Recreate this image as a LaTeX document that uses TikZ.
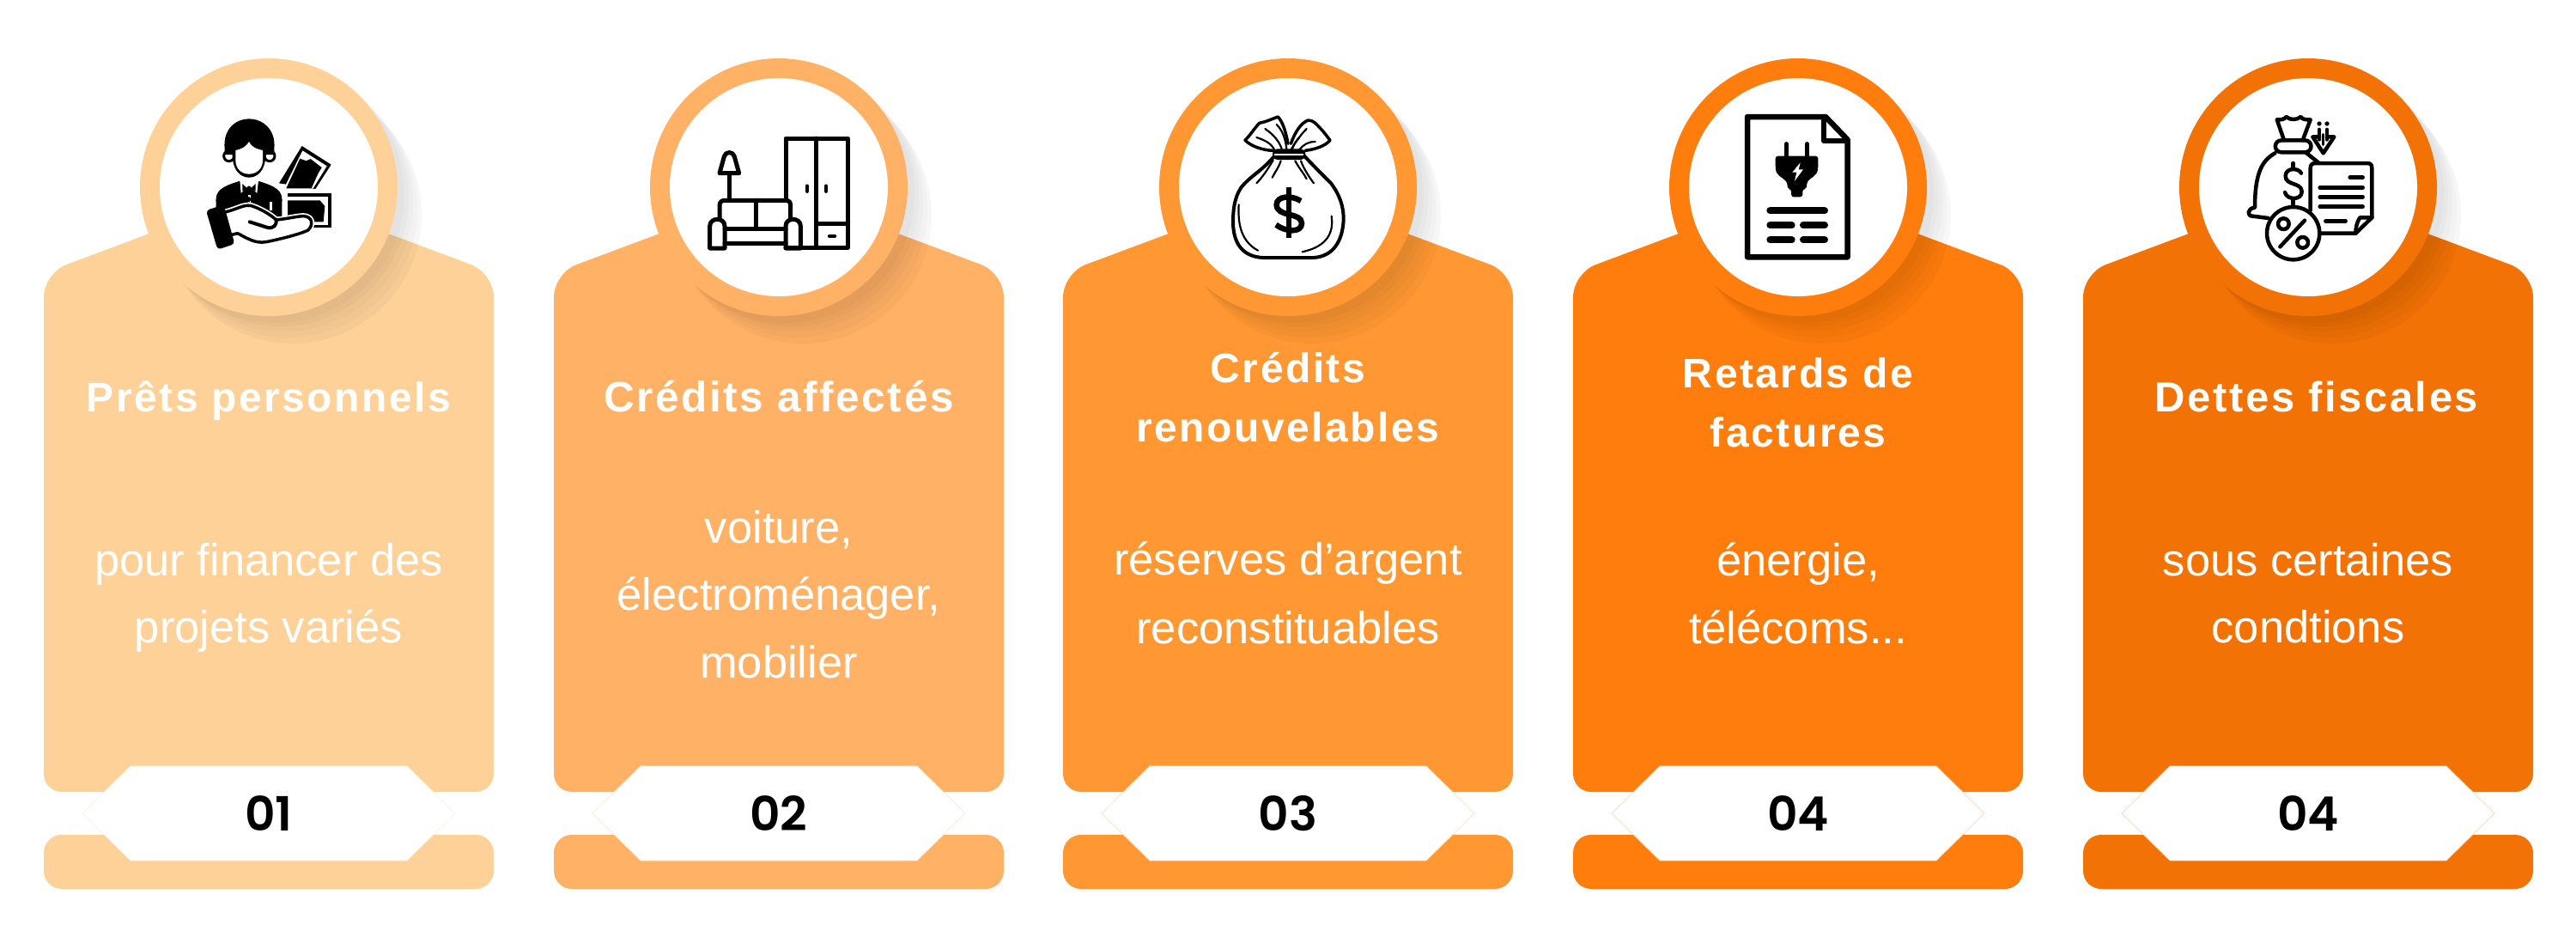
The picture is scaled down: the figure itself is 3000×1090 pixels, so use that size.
\documentclass[tikz,border=0pt]{standalone}
\usepackage{fontspec}
\setmainfont{Liberation Sans}
\newfontfamily\headfont[LetterSpace=5.2]{Liberation Sans}
\newfontfamily\numfont{Poppins SemiBold}
\definecolor{cA}{HTML}{FED198}
\definecolor{cB}{HTML}{FFB266}
\definecolor{cC}{HTML}{FF9833}
\definecolor{cD}{HTML}{FF7D0C}
\definecolor{cE}{HTML}{F27206}
\tikzset{
  headtext/.style={anchor=base,text=white,inner sep=0pt,font={\headfont\bfseries\fontsize{48}{48}\selectfont}},
  bodytext/.style={anchor=base,text=white,inner sep=0pt,font={\fontsize{52.5}{52.5}\selectfont}},
  numtext/.style={anchor=base,text=black,inner sep=0pt,font={\numfont\fontsize{55}{55}\selectfont}},
  ic/.style={draw=black,line width=#1,line cap=round,line join=round},
  ic/.default=5pt,
  iconscope/.style={x=0.33333pt,y=-0.33333pt}
}
\newcommand{\cardshape}[2]{%
  \begin{scope}[shift={(#1,0)}]
    \fill[#2,rounded corners=28pt] (-262,922) [rounded corners=28pt] -- (-262,318) -- (0,220) -- (262,318) [rounded corners=21pt] -- (262,922) -- cycle;
    \fill[#2,rounded corners=21pt] (-262,972) rectangle (262,1035);
    \fill[black,opacity=.03] (28,250) circle (150);
    \fill[black,opacity=.018] (23,243) circle (150);
    \fill[black,opacity=.018] (18,236) circle (150);
    \fill[black,opacity=.018] (13,230) circle (150);
    \fill[black,opacity=.018] (8,226) circle (150);
    \fill[#2] (0,218) circle (150);
    \fill[white] (0,218) circle (127);
    \fill[white,draw=#2!30,line width=.7pt] (-217,947) -- (-161,892) -- (161,892) -- (217,947) -- (161,1002) -- (-161,1002) -- cycle;
  \end{scope}}
\begin{document}
\begin{tikzpicture}[x=1pt,y=-1pt]
\useasboundingbox (0,0) rectangle (3000,1090);
\fill[white] (0,0) rectangle (3000,1090);
\cardshape{313}{cA}
\cardshape{907}{cB}
\cardshape{1500}{cC}
\cardshape{2094}{cD}
\cardshape{2688}{cE}

% --- text
\node[headtext] (h1) at (313,479) {Prêts personnels};
\node[bodytext] (b1a) at (313,670) {pour financer des};
\node[bodytext] (b1b) at (313,748) {projets variés};
\node[numtext] (n1) at (313,967) {01};

\node[headtext] (h2) at (907,479) {\fontsize{49.5}{49.5}\selectfont Crédits affectés};
\node[bodytext] (b2a) at (907,632) {voiture,};
\node[bodytext] (b2b) at (907,710) {électroménager,};
\node[bodytext] (b2c) at (907,789) {mobilier};
\node[numtext] (n2) at (907,967) {02};

\node[headtext] (h3a) at (1500,445) {Crédits};
\node[headtext] (h3b) at (1500,514) {renouvelables};
\node[bodytext] (b3a) at (1500,669) {réserves d’argent};
\node[bodytext] (b3b) at (1500,749) {reconstituables};
\node[numtext] (n3) at (1500,967) {03};

\node[headtext] (h4a) at (2094,451) {Retards de};
\node[headtext] (h4b) at (2094,520) {factures};
\node[bodytext] (b4a) at (2094,670) {énergie,};
\node[bodytext] (b4b) at (2094,749) {télécoms...};
\node[numtext] (n4) at (2094,967) {04};

\node[headtext] (h5) at (2698,479) {\fontsize{49}{49}\selectfont Dettes fiscales};
\node[bodytext] (b5a) at (2688,670) {sous certaines};
\node[bodytext] (b5b) at (2688,748) {condtions};
\node[numtext] (n5) at (2688,967) {04};

% --- icon 1: person and banknotes
\begin{scope}[shift={(220,130)},iconscope]
  % notes
  \fill[black] (395,120) -- (497,185) -- (442,270) -- (315,250) -- cycle;
  \fill[white] (397,136) -- (482,190) -- (434,268) -- (332,268) -- cycle;
  \fill[black] (388,164) -- (410,172) -- (425,165) -- (464,195) -- (452,215) -- (428,268) -- (340,268) -- cycle;
  \fill[black] (345,285) rectangle (497,405);
  \fill[white] (345,297) rectangle (485,395);
  \fill[black] (345,310) -- (458,310) -- (475,330) -- (470,385) -- (345,385) -- cycle;
  % body
  \fill[black] (95,320) .. controls (90,275) and (115,262) .. (178,242) -- (242,242) .. controls (305,262) and (330,275) .. (325,320) -- (325,370) -- (95,370) -- cycle;
  \fill[white] (178,240) -- (182,285) -- (207,260) -- (213,260) -- (238,285) -- (243,240) -- (210,232) -- cycle;
  \fill[black] (187,252) -- (204,268) -- (187,278) -- cycle;
  \fill[black] (233,252) -- (216,268) -- (233,278) -- cycle;
  \fill[black] (210,262) -- (224,276) -- (210,290) -- (196,276) -- cycle;
  \draw[white,line width=3pt] (210,290) -- (210,330);
  \draw[white,line width=3pt] (285,315) -- (285,345);
  \fill[black] (210,296) -- (218,306) -- (210,318) -- (202,306) -- cycle;
  % head
  \draw[ic=3pt,fill=white] (140,155) circle (18);
  \draw[ic=3pt,fill=white] (282,155) circle (18);
  \fill[black] (125,130) .. controls (118,60) and (165,25) .. (210,25) .. controls (255,25) and (305,60) .. (298,130) -- (298,150) -- (268,150) .. controls (268,205) and (240,230) .. (210,230) .. controls (180,230) and (152,205) .. (152,150) -- (125,150) -- cycle;
  \fill[white] (163,135) .. controls (185,130) and (197,125) .. (210,105) .. controls (220,125) and (235,130) .. (258,135) -- (258,170) .. controls (258,200) and (235,218) .. (210,218) .. controls (185,218) and (163,200) .. (163,170) -- cycle;
  % hand
  \path[fill=white,draw=white,line width=7pt,line join=round] (130,350) .. controls (170,340) and (190,325) .. (215,328) .. controls (240,335) and (280,355) .. (305,378) .. controls (340,375) and (380,365) .. (400,365) .. controls (430,365) and (438,395) .. (415,415) .. controls (380,430) and (320,445) .. (270,455) .. controls (230,462) and (200,440) .. (170,425) -- (150,430) -- cycle;
  \draw[ic=3.5pt,fill=white] (130,350) .. controls (170,340) and (190,325) .. (215,328) .. controls (240,335) and (280,355) .. (305,378) .. controls (340,375) and (380,365) .. (400,365) .. controls (430,365) and (438,395) .. (415,415) .. controls (380,430) and (320,445) .. (270,455) .. controls (230,462) and (200,440) .. (170,425) -- (150,430);
  \draw[ic=4pt] (212,385) -- (275,405) .. controls (295,410) and (308,395) .. (305,378);
  \fill[black,rounded corners=4pt] (60,345) -- (122,325) -- (160,462) -- (100,482) -- cycle;
\end{scope}

% --- icon 2: furniture
\begin{scope}[shift={(700,50)},iconscope]
  \draw[ic] (645,550) -- (645,333) -- (862,333) -- (862,715) -- (645,715);
  \draw[ic] (752,333) -- (752,715);
  \draw[ic] (752,632) -- (862,632);
  \draw[ic=4.5pt] (720,500) -- (720,518);
  \draw[ic=4.5pt] (786,500) -- (786,518);
  \draw[ic=4.5pt] (798,675) -- (816,675);
  \draw[ic] (414,455) -- (430,397) .. controls (434,378) and (462,378) .. (466,397) -- (482,455) -- cycle;
  \draw[ic] (447,455) -- (447,550);
  \draw[ic] (414,612) -- (414,570) .. controls (414,556) and (420,550) .. (432,550) -- (645,550) .. controls (657,550) and (662,556) .. (662,570) -- (662,612);
  \draw[ic] (540,550) -- (540,650);
  \draw[ic] (432,650) -- (645,650);
  \draw[ic] (432,700) -- (645,700);
  \draw[ic] (380,717) -- (380,640) .. controls (380,608) and (432,608) .. (432,640) -- (432,717) -- cycle;
  \draw[ic] (645,717) -- (645,640) .. controls (645,608) and (697,608) .. (697,640) -- (697,717) -- cycle;
\end{scope}

% --- icon 3: money bag
\begin{scope}[shift={(1300,50)},iconscope]
  \draw[ic=4pt] (548,400) .. controls (510,445) and (470,465) .. (440,500) .. controls (410,540) and (408,590) .. (408,630) .. controls (410,700) and (440,745) .. (510,750) -- (690,750) .. controls (760,745) and (790,690) .. (794,620) .. controls (795,570) and (780,530) .. (750,490) .. controls (720,460) and (690,430) .. (657,395);
  \fill[black,rounded corners=6pt] (546,370) rectangle (661,408);
  \draw[white,line width=1.8pt] (552,389) -- (655,389);
  \draw[ic=3.5pt] (548,376) .. controls (510,375) and (470,360) .. (450,340) .. controls (470,320) and (485,295) .. (500,280) .. controls (525,275) and (545,265) .. (565,258) .. controls (580,275) and (590,300) .. (600,352);
  \draw[ic=3.5pt] (610,352) .. controls (625,310) and (645,280) .. (670,270) .. controls (690,270) and (700,285) .. (710,295) .. controls (725,310) and (735,325) .. (747,340) .. controls (730,360) and (695,372) .. (660,376);
  \draw[ic=2.2pt] (490,330) .. controls (520,340) and (540,350) .. (552,372);
  \draw[ic=2.2pt] (520,300) .. controls (550,320) and (570,345) .. (578,370);
  \draw[ic=2.2pt] (560,285) .. controls (580,305) and (590,330) .. (595,370);
  \draw[ic=2.2pt] (640,330) .. controls (630,340) and (622,350) .. (615,370);
  \draw[ic=2.2pt] (665,300) .. controls (640,325) and (625,350) .. (612,370);
  \draw[ic=2.2pt] (695,345) .. controls (670,345) and (655,355) .. (640,372);
  \draw[ic=2.2pt] (548,410) .. controls (530,440) and (510,470) .. (490,490);
  \draw[ic=2.2pt] (575,412) .. controls (565,440) and (555,450) .. (545,470);
  \draw[ic=2.2pt] (625,412) .. controls (640,440) and (655,455) .. (665,475);
  \draw[ic=2.2pt] (645,412) .. controls (655,440) and (675,470) .. (690,490);
  \draw[ic=2.2pt] (428,565) .. controls (425,620) and (430,690) .. (495,725);
  \draw[ic=2.2pt] (752,605) .. controls (760,660) and (740,710) .. (650,730);
  \draw[black,line width=5.3pt] (603,505) -- (603,680);
  \draw[black,line width=6.5pt] (645,552) .. controls (610,530) and (560,535) .. (560,565) .. controls (560,610) and (648,590) .. (648,630) .. controls (648,665) and (590,660) .. (558,635);
\end{scope}

% --- icon 4: electricity bill
\begin{scope}[shift={(1900,50)},iconscope]
  \draw[ic=6.5pt] (405,258) -- (678,258) -- (755,338) -- (755,748) -- (405,748) -- cycle;
  \draw[ic=5.5pt] (672,262) -- (672,342) -- (755,342);
  \draw[ic=4.5pt] (541,352) -- (541,395);
  \draw[ic=4.5pt] (613,352) -- (613,395);
  \fill[black,rounded corners=3pt] (503,395) -- (652,395) -- (652,430) .. controls (650,465) and (625,470) .. (612,490) -- (612,510) -- (598,510) -- (598,538) -- (558,538) -- (558,510) -- (545,510) -- (545,490) .. controls (530,470) and (505,465) .. (503,430) -- cycle;
  \fill[white] (590,418) -- (562,452) -- (577,452) -- (570,482) -- (600,442) -- (584,442) -- cycle;
  \draw[ic=8pt] (484,586) -- (675,586);
  \draw[ic=8pt] (484,637) -- (560,637);
  \draw[ic=8pt] (600,637) -- (675,637);
  \draw[ic=8pt] (484,688) -- (560,688);
  \draw[ic=8pt] (600,688) -- (675,688);
\end{scope}

% --- icon 5: tax bag, document, percent
\begin{scope}[shift={(2500,50)},iconscope]
  \draw[ic=4.5pt] (480,340) -- (455,268) .. controls (470,268) and (480,268) .. (488,258) .. controls (500,270) and (525,270) .. (538,258) .. controls (545,268) and (555,268) .. (572,268) -- (545,340);
  \draw[ic=4.5pt] (472,340) -- (552,340) .. controls (582,340) and (582,382) .. (552,382) -- (472,382) .. controls (442,382) and (442,340) .. (472,340) -- cycle;
  \draw[ic=4.5pt] (448,385) .. controls (405,410) and (378,450) .. (378,575) .. controls (350,578) and (350,605) .. (370,605) -- (425,612);
  \draw[ic=4.5pt] (555,382) -- (600,418);
  \draw[ic=4.5pt] (540,455) .. controls (530,435) and (485,435) .. (485,465) .. controls (485,500) and (542,485) .. (542,520) .. controls (542,550) and (490,550) .. (483,522);
  \draw[ic=4.5pt] (512,420) -- (512,440);
  \draw[ic=4.5pt] (512,545) -- (512,565);
  \draw[ic=4.5pt] (572,585) -- (572,438) .. controls (572,425) and (578,420) .. (590,420) -- (770,420) .. controls (782,420) and (787,425) .. (787,438) -- (787,610) -- (730,665) -- (608,665);
  \draw[ic=4.5pt] (787,610) -- (745,610) .. controls (735,625) and (730,645) .. (730,665);
  \draw[ic=4.5pt] (710,470) -- (755,470);
  \draw[ic=4.5pt] (605,505) -- (755,505);
  \draw[ic=4.5pt] (605,538) -- (755,538);
  \draw[ic=4.5pt] (605,572) -- (755,572);
  \draw[ic=4.5pt] (625,622) -- (695,622);
  \draw[ic=4.5pt,fill=white] (512,665) circle (92);
  \draw[ic=4.5pt] (478,632) circle (19);
  \draw[ic=4.5pt] (545,697) circle (19);
  \draw[ic=4.5pt] (552,620) -- (466,712);
  \fill[black] (603,282) circle (8);
  \fill[black] (630,282) circle (8);
  \draw[ic=4pt] (603,302) -- (603,338) ;
  \draw[ic=4pt] (630,302) -- (630,338);
  \draw[ic=4.5pt] (603,328) -- (580,328) -- (617,385) -- (655,328) -- (630,328);
  \draw[ic=3.5pt] (617,320) -- (617,355);
\end{scope}
\end{tikzpicture}
\end{document}
